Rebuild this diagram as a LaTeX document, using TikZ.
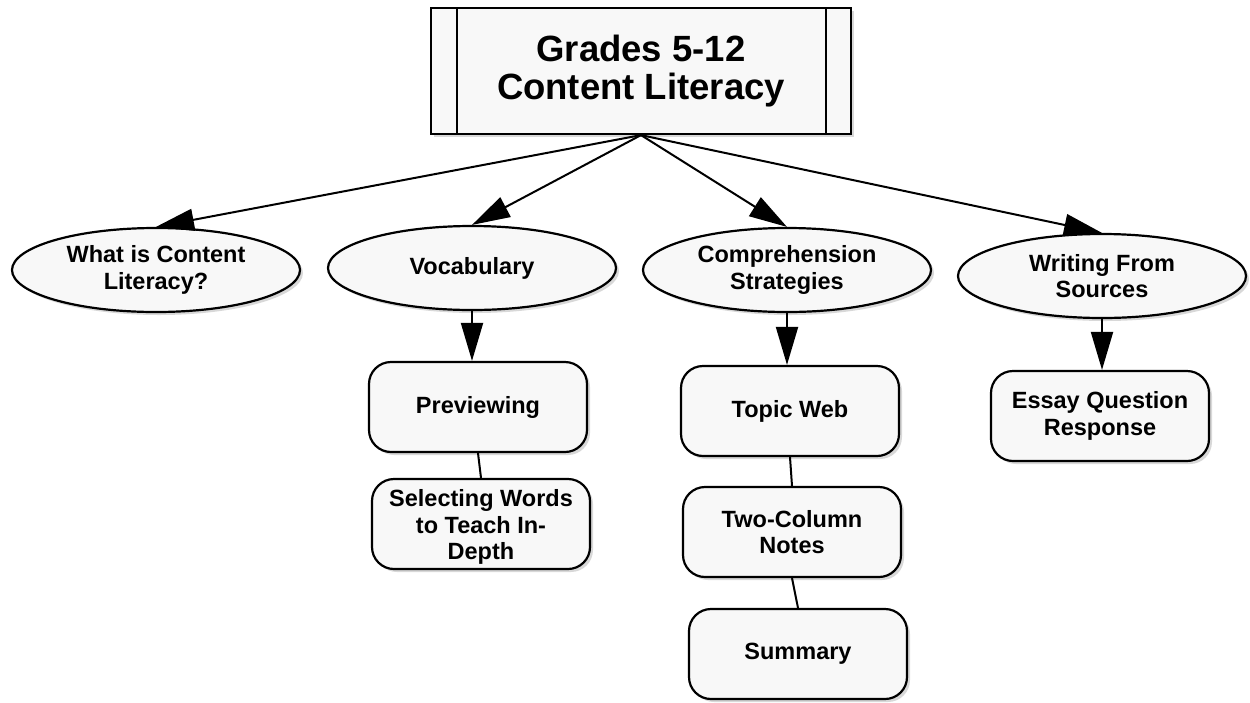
\documentclass[tikz,border=0pt]{standalone}
\usepackage{fontspec}
\setmainfont{Liberation Sans}
\usetikzlibrary{shapes.geometric,arrows.meta,shadows}
\definecolor{boxfill}{HTML}{F8F8F8}
\begin{document}
\begin{tikzpicture}[x=1pt,y=-1pt,
  shade/.style={drop shadow={shadow xshift=3pt,shadow yshift=-3pt,opacity=0.3}},
  rootbox/.style={rectangle,draw,line width=2.2pt,fill=boxfill,shade,minimum width=420pt,minimum height=126pt,inner sep=0pt,align=center,font=\fontsize{36.5}{38}\selectfont\bfseries},
  ell/.style={ellipse,draw,line width=2.2pt,fill=boxfill,shade,minimum width=288pt,minimum height=84pt,inner sep=0pt,align=center,font=\fontsize{23.5}{26.5}\selectfont\bfseries},
  rbox/.style={rectangle,rounded corners=22pt,draw,line width=2.2pt,fill=boxfill,shade,minimum width=218pt,minimum height=90pt,inner sep=0pt,align=center,font=\fontsize{23.5}{26.5}\selectfont\bfseries},
  txt/.style={align=center,inner sep=0pt,font=\fontsize{23.5}{26.5}\selectfont\bfseries},
  conn/.style={draw,line width=2pt},
  arr/.style={conn,-{Triangle[length=38pt,width=22pt]}}
]
\useasboundingbox (0,0) rectangle (1250,702);
\fill[white] (0,0) rectangle (1250,702);
% root
\node[rootbox] (root) at (641,71) {Grades 5-12\\Content Literacy};
\draw[line width=2pt] (457,8) -- (457,134) (826,8) -- (826,134);
% level 1
\node[ell] (what) at (156,270) {What is Content\\Literacy?};
\node[ell] (voc) at (472,268) {Vocabulary};
\node[ell] (comp) at (787,270) {Comprehension\\Strategies};
\node[ell] (writ) at (1102,276) {Writing From\\Sources};
% level 2
\node[rbox] (prev) at (478,407) {Previewing};
\node[rbox] (sel) at (481,524) {};
\begin{scope}
\clip (372,478) rectangle (592,564);
\node[txt] (seltext) at (481,527) {Selecting Words\\to Teach In-\\Depth};
\end{scope}
\node[rbox] (topic) at (790,411) {Topic Web};
\node[rbox] (two) at (792,532) {Two-Column\\Notes};
\node[rbox] (sum) at (798,654) {Summary};
\node[rbox] (essay) at (1100,416) {Essay Question\\Response};
% connectors
\draw[arr] (root.south) -- (what.north);
\draw[arr] (root.south) -- (voc.north);
\draw[arr] (root.south) -- (comp.north);
\draw[arr] (root.south) -- (writ.north);
\draw[arr] (voc.south) -- (voc.south |- prev.north);
\draw[arr] (comp.south) -- (comp.south |- topic.north);
\draw[arr] (writ.south) -- (writ.south |- essay.north);
\draw[conn] (prev.south) -- (sel.north);
\draw[conn] (topic.south) -- (two.north);
\draw[conn] (two.south) -- (sum.north);
\end{tikzpicture}
\end{document}
